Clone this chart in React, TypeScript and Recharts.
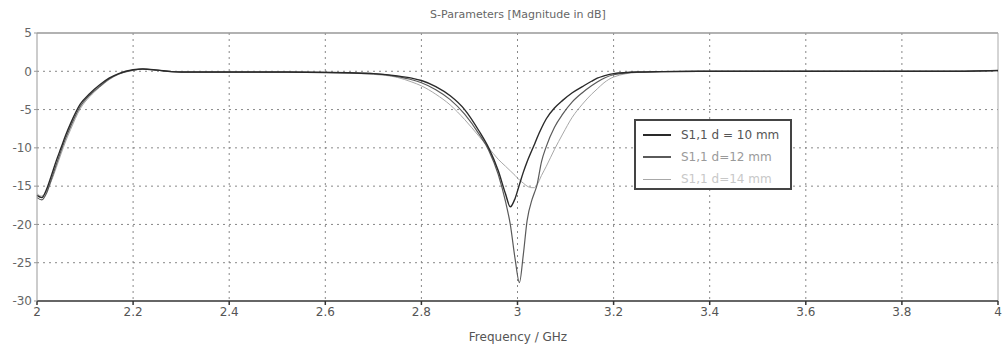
import React from "react";
import {
  LineChart,
  Line,
  XAxis,
  YAxis,
  CartesianGrid,
  ReferenceLine,
} from "recharts";

// frequency points (GHz)
const freq = [
  2.0, 2.01, 2.02, 2.03, 2.04, 2.05, 2.06, 2.07, 2.09, 2.11, 2.13, 2.15, 2.17,
  2.2, 2.22, 2.25, 2.28, 2.3, 2.4, 2.5, 2.6, 2.65, 2.7, 2.75, 2.78, 2.8, 2.83,
  2.86, 2.89, 2.92, 2.94, 2.96, 2.975, 2.985, 2.995, 3.004, 3.012, 3.02, 3.03,
  3.035, 3.04, 3.05, 3.06, 3.077, 3.094, 3.114, 3.135, 3.154, 3.166, 3.18, 3.2,
  3.25, 3.3, 3.4, 3.5, 3.6, 3.7, 3.8, 3.9, 4.0,
];

const s11d10 = [
  -16.2, -16.5, -15.4, -13.6, -11.7, -10.0, -8.3, -6.8, -4.3, -2.9, -1.8, -0.9,
  -0.3, 0.2, 0.3, 0.15, -0.05, -0.1, -0.1, -0.1, -0.15, -0.2, -0.3, -0.6, -0.9,
  -1.2, -2.0, -3.2, -5.0, -7.8, -10.0, -13.0, -16.0, -17.7, -16.6, -14.8,
  -13.2, -11.8, -10.3, -9.6, -8.8, -7.4, -6.2, -4.8, -3.8, -2.8, -2.0, -1.3,
  -0.9, -0.6, -0.3, -0.1, -0.05, 0.0, 0.0, 0.0, 0.0, 0.0, 0.0, 0.1,
];

const s11d12 = [
  -16.5, -16.8, -15.9, -14.1, -12.2, -10.4, -8.7, -7.2, -4.6, -3.1, -2.0, -1.0,
  -0.35, 0.15, 0.3, 0.15, -0.05, -0.1, -0.1, -0.1, -0.15, -0.2, -0.3, -0.7,
  -1.1, -1.5, -2.4, -3.7, -5.6, -8.2, -10.3, -13.5, -17.0, -20.0, -24.5, -27.6,
  -24.0, -19.5, -16.8, -15.9, -15.0, -11.8, -9.8, -7.3, -5.6, -4.0, -2.8,
  -1.9, -1.4, -0.9, -0.45, -0.1, -0.05, 0.0, 0.0, 0.0, 0.0, 0.0, 0.0, 0.1,
];

const s11d14 = [
  -16.0, -16.3, -15.6, -14.3, -12.6, -10.8, -9.1, -7.6, -4.9, -3.3, -2.1,
  -1.1, -0.4, 0.1, 0.3, 0.15, -0.05, -0.1, -0.1, -0.1, -0.15, -0.25, -0.4,
  -0.8, -1.4, -1.9, -3.0, -4.4, -6.3, -8.5, -10.0, -11.5, -12.4, -13.0, -13.6,
  -14.2, -14.6, -15.0, -15.2, -15.2, -14.9, -13.6, -12.4, -10.2, -8.2, -6.0,
  -4.3, -3.0, -2.3, -1.5, -0.75, -0.15, -0.05, 0.0, 0.0, 0.0, 0.0, 0.0, 0.0,
  0.1,
];

const xTicks = [2, 2.2, 2.4, 2.6, 2.8, 3, 3.2, 3.4, 3.6, 3.8, 4];
const yTicks = [-30, -25, -20, -15, -10, -5, 0, 5];

const seriesNames = ["S1,1 d = 10 mm", "S1,1 d=12 mm", "S1,1 d=14 mm"];
const seriesColors = ["#2a2a2a", "#5a5a5a", "#a8a8a8"];
const legendText = ["#555", "#9a9a9a", "#c8c8c8"];

const data = freq.map((f, i) => ({
  f,
  a: s11d10[i],
  b: s11d12[i],
  c: s11d14[i],
}));

const font = "'DejaVu Sans', sans-serif";

const LegendBox = () => (
  <div
    style={{
      position: "absolute",
      left: 634,
      top: 119,
      width: 158,
      height: 71,
      border: "2px solid #444",
      background: "#fff",
      fontFamily: font,
      fontSize: 12,
      boxSizing: "border-box",
      padding: "3px 0 0 7px",
    }}
  >
    {seriesNames.map((n, i) => (
      <div key={n} style={{ display: "flex", alignItems: "center", height: 22 }}>
        <span
          style={{
            display: "inline-block",
            width: 28,
            borderTop: `${i === 2 ? 1 : 2}px solid ${seriesColors[i]}`,
            marginRight: 10,
          }}
        />
        <span style={{ color: legendText[i] }}>{n}</span>
      </div>
    ))}
  </div>
);

export default function App() {
  return (
    <div
      style={{
        position: "absolute",
        left: 0,
        top: 0,
        width: 1005,
        height: 351,
        background: "#fff",
      }}
    >
      <LineChart
        width={1005}
        height={351}
        data={data}
        margin={{ top: 33, right: 7, bottom: 28, left: 7 }}
      >
        <text
          x={518}
          y={18}
          textAnchor="middle"
          fontFamily={font}
          fontSize={11}
          fill="#666"
        >
          S-Parameters [Magnitude in dB]
        </text>
        <text
          x={518}
          y={341}
          textAnchor="middle"
          fontFamily={font}
          fontSize={12}
          fill="#555"
        >
          Frequency / GHz
        </text>
        <CartesianGrid
          stroke="#888"
          strokeDasharray="2 4"
          horizontalValues={[-25, -20, -15, -10, -5, 0]}
          verticalValues={[2.2, 2.4, 2.6, 2.8, 3, 3.2, 3.4, 3.6, 3.8]}
        />
        <ReferenceLine y={5} stroke="#999" strokeWidth={1.5} />
        <ReferenceLine x={4} stroke="#aaa" strokeWidth={1} />
        <XAxis
          dataKey="f"
          type="number"
          domain={[2, 4]}
          ticks={xTicks}
          tickFormatter={(v: number) => String(v)}
          stroke="#333"
          strokeWidth={1.5}
          tickSize={4}
          height={22}
          tick={{ fontFamily: font, fontSize: 12, fill: "#555" }}
          interval={0}
        />
        <YAxis
          type="number"
          domain={[-30, 5]}
          ticks={yTicks}
          stroke="#999"
          width={30}
          tickSize={3}
          tick={{ fontFamily: font, fontSize: 12, fill: "#666" }}
          interval={0}
        />
        <Line
          dataKey="c"
          type="monotone"
          stroke={seriesColors[2]}
          strokeWidth={1}
          dot={false}
          isAnimationActive={false}
        />
        <Line
          dataKey="b"
          type="monotone"
          stroke={seriesColors[1]}
          strokeWidth={1.2}
          dot={false}
          isAnimationActive={false}
        />
        <Line
          dataKey="a"
          type="monotone"
          stroke={seriesColors[0]}
          strokeWidth={1.4}
          dot={false}
          isAnimationActive={false}
        />
      </LineChart>
      <LegendBox />
    </div>
  );
}
